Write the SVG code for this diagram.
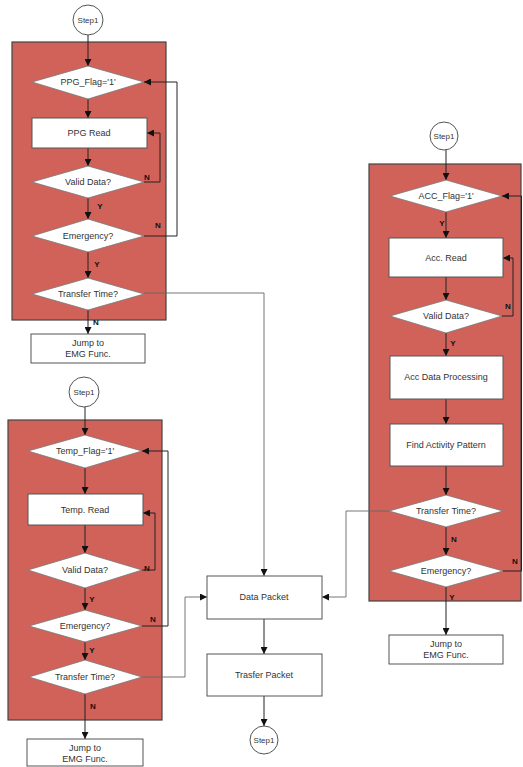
<svg xmlns="http://www.w3.org/2000/svg" width="523" height="767" viewBox="0 0 523 767">
<defs>
<marker id="ah" viewBox="0 0 8 8" refX="8" refY="4" markerWidth="7" markerHeight="7" markerUnits="userSpaceOnUse" orient="auto">
<path d="M0,0 L8,4 L0,8 z" fill="#111"/>
</marker>
</defs>
<style>
.panel{fill:#D0625A;stroke:#444;stroke-width:1.2}
.box{fill:#fff;stroke:#555;stroke-width:1}
.dia{fill:#fff;stroke:#777;stroke-width:0.8}
.circ{fill:#fff;stroke:#555;stroke-width:1}
.t{font-family:"Liberation Sans",Arial,sans-serif;font-size:9px;fill:#333;text-anchor:middle;dominant-baseline:central}
.s{font-family:"Liberation Sans",Arial,sans-serif;font-size:8px;fill:#333;text-anchor:middle;dominant-baseline:central}
.yn{font-family:"Liberation Sans",Arial,sans-serif;font-size:8px;font-weight:bold;fill:#111;text-anchor:middle;dominant-baseline:central}
.c{fill:none;stroke:#222;stroke-width:1}
.cg{fill:none;stroke:#666;stroke-width:0.9}
</style>
<rect width="523" height="767" fill="#fff"/>
<g id="panels">
<rect class="panel" x="12" y="42" width="154" height="278"/>
<rect class="panel" x="8" y="420" width="154" height="300"/>
<rect class="panel" x="369" y="164" width="152" height="437"/>
</g>
<g id="connectors">
<path class="c" d="M88,35 V66" marker-end="url(#ah)"/>
<path class="c" d="M88,99 V118" marker-end="url(#ah)"/>
<path class="c" d="M88,148 V166" marker-end="url(#ah)"/>
<path class="c" d="M144,182 H160 V133 H147" marker-end="url(#ah)"/>
<path class="c" d="M88,198 V219" marker-end="url(#ah)"/>
<path class="c" d="M144,236 H177 V82 H144" marker-end="url(#ah)"/>
<path class="c" d="M88,252 V278" marker-end="url(#ah)"/>
<path class="c" d="M88,310 V334" marker-end="url(#ah)"/>
<path class="cg" d="M144,293 H264 V576" marker-end="url(#ah)"/>
<path class="c" d="M85,407 V435" marker-end="url(#ah)"/>
<path class="c" d="M85,468 V494" marker-end="url(#ah)"/>
<path class="c" d="M85,525 V553" marker-end="url(#ah)"/>
<path class="c" d="M142,570 H155 V513 H143" marker-end="url(#ah)"/>
<path class="c" d="M85,588 V610" marker-end="url(#ah)"/>
<path class="c" d="M142,626 H168 V451 H142" marker-end="url(#ah)"/>
<path class="c" d="M85,642 V660" marker-end="url(#ah)"/>
<path class="c" d="M85,694 V739" marker-end="url(#ah)"/>
<path class="cg" d="M142,677 H185 V597 H207" marker-end="url(#ah)"/>
<path class="c" d="M264,619 V654" marker-end="url(#ah)"/>
<path class="c" d="M264,696 V726" marker-end="url(#ah)"/>
<path class="c" d="M446,150 V180" marker-end="url(#ah)"/>
<path class="c" d="M446,212 V238" marker-end="url(#ah)"/>
<path class="c" d="M446,277 V300" marker-end="url(#ah)"/>
<path class="c" d="M502,316 H513 V258 H503" marker-end="url(#ah)"/>
<path class="c" d="M446,333 V356" marker-end="url(#ah)"/>
<path class="c" d="M446,399 V424" marker-end="url(#ah)"/>
<path class="c" d="M446,466 V495" marker-end="url(#ah)"/>
<path class="c" d="M446,527 V555" marker-end="url(#ah)"/>
<path class="c" d="M503,571 H521.5 V196 H502" marker-end="url(#ah)"/>
<path class="c" d="M446,587 V635" marker-end="url(#ah)"/>
<path class="cg" d="M389,511 H346 V597 H322" marker-end="url(#ah)"/>
</g>
<g id="labels">
<text class="yn" x="147" y="177">N</text>
<text class="yn" x="100" y="206">Y</text>
<text class="yn" x="158" y="225">N</text>
<text class="yn" x="97" y="264">Y</text>
<text class="yn" x="96" y="322">N</text>
<text class="yn" x="147" y="568">N</text>
<text class="yn" x="92" y="599">Y</text>
<text class="yn" x="153" y="619">N</text>
<text class="yn" x="92" y="650">Y</text>
<text class="yn" x="93" y="706">N</text>
<text class="yn" x="442" y="223">Y</text>
<text class="yn" x="508" y="306">N</text>
<text class="yn" x="453" y="343">Y</text>
<text class="yn" x="454" y="539">N</text>
<text class="yn" x="515" y="561">N</text>
<text class="yn" x="452" y="597">Y</text>
</g>
<g id="ppg-step1"><circle class="circ" cx="88" cy="20" r="15"/><text class="s" x="88" y="20">Step1</text></g>
<g id="ppg-flag"><polygon class="dia" points="32,82 88,66 144,82 88,99"/><text class="t" x="88" y="82">PPG_Flag='1'</text></g>
<g id="ppg-read"><rect class="box" x="32" y="118" width="115" height="30"/><text class="t" x="89" y="133">PPG Read</text></g>
<g id="ppg-valid"><polygon class="dia" points="32,182 88,166 144,182 88,198"/><text class="t" x="88" y="182">Valid Data?</text></g>
<g id="ppg-emergency"><polygon class="dia" points="32,236 88,219 144,236 88,252"/><text class="t" x="88" y="236">Emergency?</text></g>
<g id="ppg-transfer"><polygon class="dia" points="32,294 88,278 144,294 88,310"/><text class="t" x="88" y="294">Transfer Time?</text></g>
<g id="ppg-jump"><rect class="box" x="31" y="334" width="114" height="29"/><text class="t" x="88" y="343">Jump to</text><text class="t" x="88" y="354">EMG Func.</text></g>

<g id="temp-step1"><circle class="circ" cx="84" cy="392" r="15"/><text class="s" x="84" y="392">Step1</text></g>
<g id="temp-flag"><polygon class="dia" points="28,451 85,435 142,451 85,468"/><text class="t" x="85" y="451">Temp_Flag='1'</text></g>
<g id="temp-read"><rect class="box" x="28" y="494" width="115" height="31"/><text class="t" x="85" y="510">Temp. Read</text></g>
<g id="temp-valid"><polygon class="dia" points="28,570 85,553 142,570 85,588"/><text class="t" x="85" y="570">Valid Data?</text></g>
<g id="temp-emergency"><polygon class="dia" points="29,626 85,610 142,626 85,642"/><text class="t" x="85" y="626">Emergency?</text></g>
<g id="temp-transfer"><polygon class="dia" points="29,677 85,660 142,677 85,694"/><text class="t" x="85" y="677">Transfer Time?</text></g>
<g id="temp-jump"><rect class="box" x="27" y="739" width="116" height="27"/><text class="t" x="85" y="748">Jump to</text><text class="t" x="85" y="759">EMG Func.</text></g>

<g id="data-packet"><rect class="box" x="207" y="576" width="115" height="43"/><text class="t" x="264" y="597">Data Packet</text></g>
<g id="transfer-packet"><rect class="box" x="207" y="654" width="115" height="42"/><text class="t" x="264" y="675">Trasfer Packet</text></g>
<g id="end-step1"><circle class="circ" cx="264" cy="740" r="14"/><text class="s" x="264" y="740">Step1</text></g>

<g id="acc-step1"><circle class="circ" cx="444" cy="136" r="14"/><text class="s" x="444" y="136">Step1</text></g>
<g id="acc-flag"><polygon class="dia" points="390,196 446,180 502,196 446,212"/><text class="t" x="446" y="196">ACC_Flag='1'</text></g>
<g id="acc-read"><rect class="box" x="389" y="238" width="114" height="39"/><text class="t" x="446" y="258">Acc. Read</text></g>
<g id="acc-valid"><polygon class="dia" points="390,316 446,300 502,316 446,333"/><text class="t" x="446" y="316">Valid Data?</text></g>
<g id="acc-processing"><rect class="box" x="390" y="356" width="113" height="43"/><text class="t" x="446" y="377">Acc Data Processing</text></g>
<g id="acc-pattern"><rect class="box" x="390" y="424" width="113" height="42"/><text class="t" x="446" y="445">Find Activity Pattern</text></g>
<g id="acc-transfer"><polygon class="dia" points="389,511 446,495 503,511 446,527"/><text class="t" x="446" y="511">Transfer Time?</text></g>
<g id="acc-emergency"><polygon class="dia" points="389,571 446,555 503,571 446,587"/><text class="t" x="446" y="571">Emergency?</text></g>
<g id="acc-jump"><rect class="box" x="389" y="635" width="114" height="29"/><text class="t" x="446" y="644">Jump to</text><text class="t" x="446" y="655">EMG Func.</text></g>
</svg>
